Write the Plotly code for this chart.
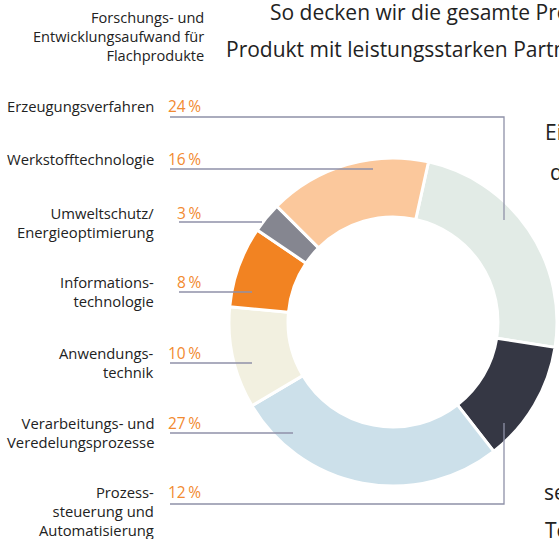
import plotly.graph_objects as go

# ---- data ----
categories = ["Erzeugungsverfahren", "Prozesssteuerung und Automatisierung",
              "Verarbeitungs- und Veredelungsprozesse", "Anwendungstechnik",
              "Informationstechnologie", "Umweltschutz/Energieoptimierung",
              "Werkstofftechnologie"]
values = [24, 12, 27, 10, 8, 3, 16]
colors = ["#E2EBE6", "#353744", "#CCE0EA", "#F2F0E0", "#F28322", "#858690", "#FBC89C"]

label_texts = ["Erzeugungsverfahren", "Werkstofftechnologie", "Umweltschutz/<br>Energieoptimierung",
               "Informations-<br>technologie", "Anwendungs-<br>technik",
               "Verarbeitungs- und<br>Veredelungsprozesse", "Prozess-<br>steuerung und<br>Automatisierung"]
label_values = [24, 16, 3, 8, 10, 27, 12]

W, H = 559, 539
FONT = "Open Sans"
TXT = "#222222"
ORANGE = "#F28A30"
LINE = "#8F91A8"

# pie geometry (pixels)
cx, cy, R = 393, 322, 164

fig = go.Figure()
fig.add_trace(go.Pie(
    labels=categories, values=values, sort=False, direction="clockwise",
    rotation=12.5, hole=0.64,
    marker=dict(colors=colors, line=dict(color="white", width=3)),
    textinfo="none", hoverinfo="label+percent", showlegend=False,
    domain=dict(x=[(cx - R) / W, (cx + R) / W], y=[(H - cy - R) / H, (H - cy + R) / H]),
))

# label positions (pixels, y from top)
label_y = [106, 159, 213, 282, 353, 423, 492]
line_y = [117, 169, 222, 292, 363, 433, 504]
line_x0 = [170, 170, 179, 179, 170, 170, 170]
line_x1 = [504, 373, 262, 252, 252, 293, 504]
line_bend = [220, None, None, None, None, None, 423]
pct_x = [166, 166, 175, 175, 166, 166, 166]

LABEL_SIZE = 14.8
LS = 1.3 * LABEL_SIZE
annotations = []
shapes = []
for i, (t, v) in enumerate(zip(label_texts, label_values)):
    nlines = t.count("<br>") + 1
    annotations.append(dict(
        x=156, y=label_y[i] + (nlines - 1) * LS / 2, xref="x", yref="y", text=t, showarrow=False,
        xanchor="right", yanchor="middle", align="right",
        font=dict(family=FONT, size=LABEL_SIZE, color=TXT)))
    annotations.append(dict(
        x=pct_x[i], y=label_y[i], xref="x", yref="y", text=f"{v}\u2009%", showarrow=False,
        xanchor="left", yanchor="middle",
        font=dict(family=FONT, size=15.5, color=ORANGE)))
    if line_bend[i] is None:
        path = f"M {line_x0[i]} {line_y[i]} L {line_x1[i]} {line_y[i]}"
    else:
        path = f"M {line_x0[i]} {line_y[i]} L {line_x1[i]} {line_y[i]} L {line_x1[i]} {line_bend[i]}"
    shapes.append(dict(type="path", path=path, xref="x", yref="y",
                       line=dict(color=LINE, width=1.3)))

# header
annotations.append(dict(x=206, y=36, xref="x", yref="y",
                        text="Forschungs- und<br>Entwicklungsaufwand für<br>Flachprodukte",
                        showarrow=False, xanchor="right", yanchor="middle", align="right",
                        font=dict(family=FONT, size=14.6, color=TXT)))
# body text fragments (cut off by page edge)
body = [(268, 12, "So decken wir die gesamte Prozesskette"),
        (224, 49, "Produkt mit leistungsstarken Partnern"),
        (543, 132, "Ein"), (548, 172, "der"), (542, 492, "sei"), (543, 530, "Tec")]
for x, y, t in body:
    annotations.append(dict(x=x, y=y, xref="x", yref="y", text=t, showarrow=False,
                            xanchor="left", yanchor="middle",
                            font=dict(family=FONT, size=21, color=TXT)))

fig.update_layout(
    width=W, height=H, margin=dict(l=0, r=0, t=0, b=0),
    paper_bgcolor="white", plot_bgcolor="rgba(0,0,0,0)",
    xaxis=dict(range=[0, W], visible=False, fixedrange=True),
    yaxis=dict(range=[H, 0], visible=False, fixedrange=True),
    annotations=annotations, shapes=shapes,
)
fig.write_html("out.html", config={"displayModeBar": False},
               post_script="document.body.style.margin='0';document.body.style.overflow='hidden';")
